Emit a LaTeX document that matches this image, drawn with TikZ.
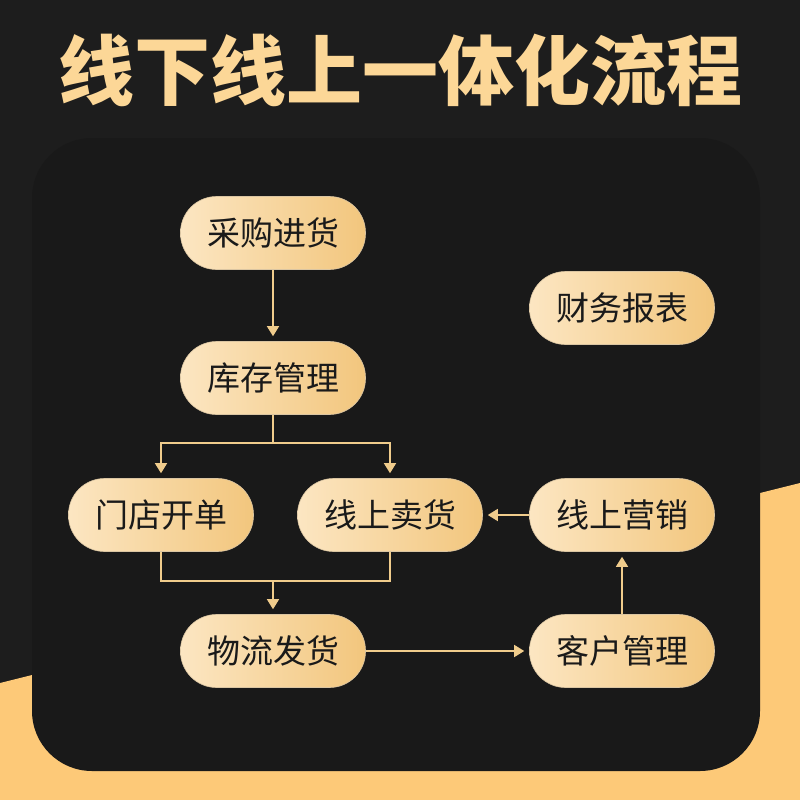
\documentclass[tikz,border=0pt]{standalone}
\usepackage{fontspec}
\newfontfamily\cjk{Noto Sans CJK SC}
\usetikzlibrary{arrows.meta}
\definecolor{bgdark}{HTML}{1D1D1D}
\definecolor{panel}{HTML}{191919}
\definecolor{orangebg}{HTML}{FDC978}
\definecolor{cream}{HTML}{FCE6C2}
\definecolor{gold}{HTML}{F2C67D}
\definecolor{lineor}{HTML}{F0CC8C}
\definecolor{titlecol}{HTML}{FCD797}
\definecolor{txt}{HTML}{1A1A1A}
\tikzset{
  flowbox/.style={rectangle, rounded corners=36pt, minimum width=185pt, minimum height=73pt,
    inner sep=0pt, left color=cream, middle color=gold, right color=gold, draw=gold!80!black!60, line width=0.6pt,
    font=\cjk\fontsize{33}{33}\selectfont, text=txt},
  conn/.style={draw=lineor, line width=1.5pt},
  arr/.style={conn, -{Triangle[width=12pt,length=10pt]}, shorten >=5pt}
}
\begin{document}
\begin{tikzpicture}[x=1pt,y=-1pt]
\useasboundingbox (0,0) rectangle (800,800);
\fill[bgdark] (0,0) rectangle (800,800);
\fill[orangebg] (0,683) -- (800,483) -- (800,800) -- (0,800) -- cycle;
\fill[panel] (32,138) [rounded corners=60pt] rectangle (760,771);
\node[font=\cjk\bfseries\fontsize{76}{76}\selectfont, text=titlecol] (title) at (400,70) {线下线上一体化流程};
\node[flowbox] (a) at (273,233) {采购进货};
\node[flowbox] (b) at (273,378) {库存管理};
\node[flowbox] (f) at (622,308) {财务报表};
\node[flowbox] (c) at (161,515) {门店开单};
\node[flowbox] (d) at (390,515) {线上卖货};
\node[flowbox] (g) at (622,515) {线上营销};
\node[flowbox] (e) at (273,651) {物流发货};
\node[flowbox] (h) at (622,651) {客户管理};
\coordinate (br) at (273,443);
\coordinate (m) at (273,581);
\draw[arr] (a.south) -- (b.north);
\draw[conn] (b.south) -- (br);
\draw[arr] (br) -| (c.north);
\draw[arr] (br) -| (d.north);
\draw[conn] (c.south) |- (m) -| (d.south);
\draw[arr] (m) -- (e.north);
\draw[arr] (e.east) -- (h.west);
\draw[arr] (h.north) -- (g.south);
\draw[arr] (g.west) -- (d.east);
\end{tikzpicture}
\end{document}
